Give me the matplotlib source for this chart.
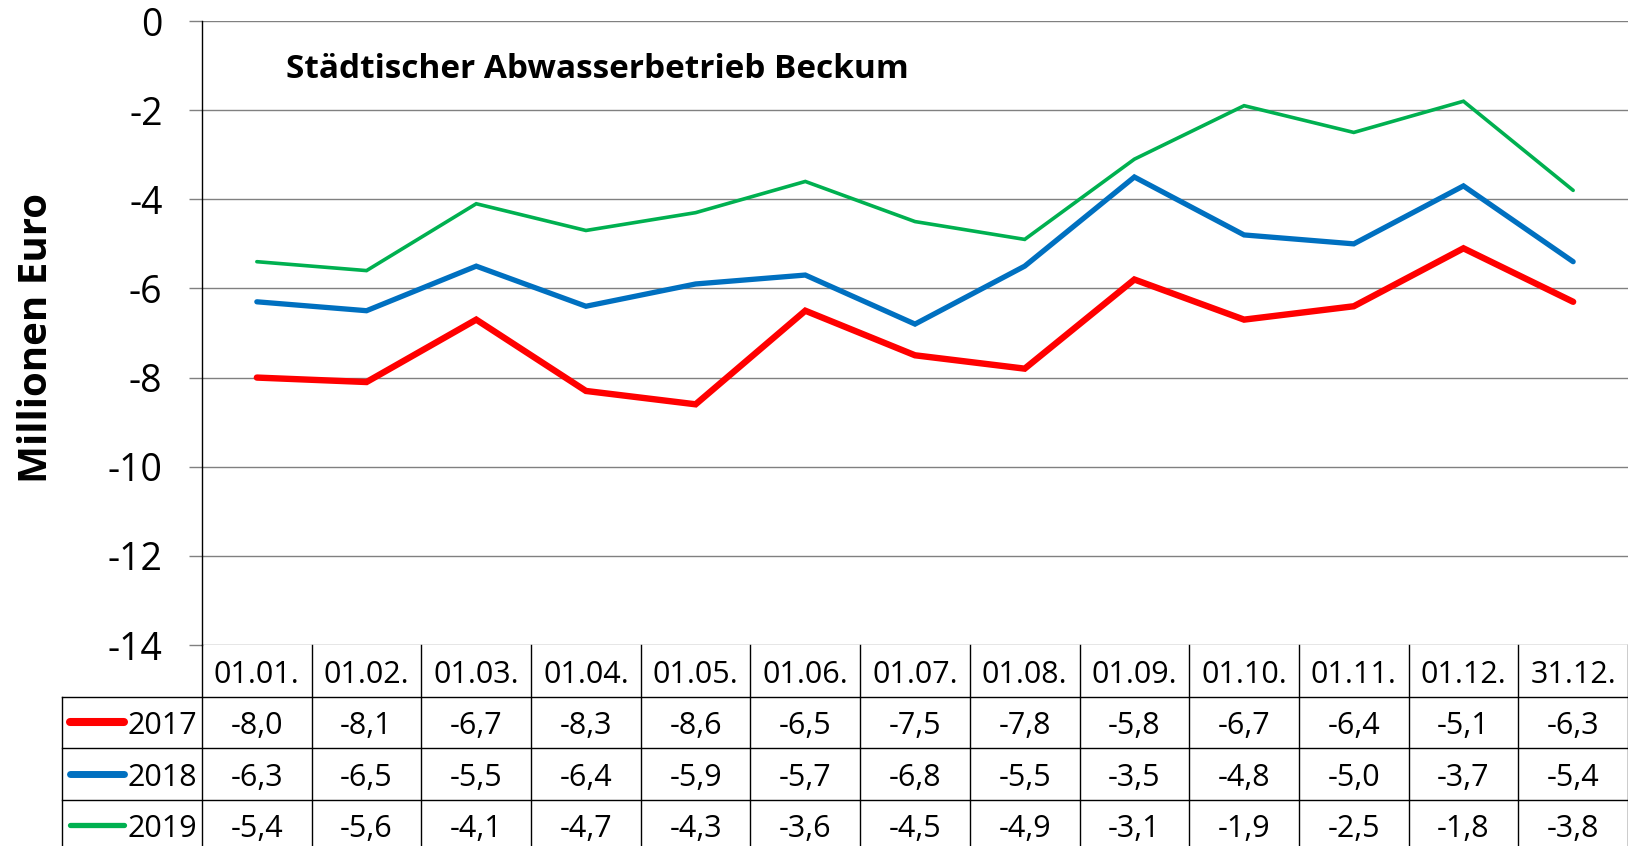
import numpy as np
import matplotlib
matplotlib.use("Agg")
import matplotlib.pyplot as plt

plt.rcParams['font.family'] = ['Open Sans', 'DejaVu Sans']

dates = ["01.01.", "01.02.", "01.03.", "01.04.", "01.05.", "01.06.", "01.07.",
         "01.08.", "01.09.", "01.10.", "01.11.", "01.12.", "31.12."]
v2017 = [-8.0, -8.1, -6.7, -8.3, -8.6, -6.5, -7.5, -7.8, -5.8, -6.7, -6.4, -5.1, -6.3]
v2018 = [-6.3, -6.5, -5.5, -6.4, -5.9, -5.7, -6.8, -5.5, -3.5, -4.8, -5.0, -3.7, -5.4]
v2019 = [-5.4, -5.6, -4.1, -4.7, -4.3, -3.6, -4.5, -4.9, -3.1, -1.9, -2.5, -1.8, -3.8]
years = ["2017", "2018", "2019"]
series = [v2017, v2018, v2019]
colors = ["#FF0000", "#0070C0", "#00B050"]
widths = [4.6, 3.8, 2.6]

W, H = 1628, 846
fig = plt.figure(figsize=(W / 100, H / 100), dpi=100)

# plot area in pixels
left, right, top, bottom = 202, 1628, 21, 645
ax = fig.add_axes([left / W, (H - bottom) / H, (right - left) / W, (bottom - top) / H])

x = np.arange(len(dates))
for vals, c, lw in zip(series, colors, widths):
    ax.plot(x, vals, color=c, lw=lw, solid_capstyle='round', solid_joinstyle='miter', zorder=3)

ax.set_xlim(-0.5, len(dates) - 0.5)
ax.set_ylim(-14, 0)
ax.set_yticks(np.arange(-14, 1, 2))
ax.set_yticklabels([str(t) for t in range(-14, 1, 2)])
ax.set_xticks([])
ax.grid(axis='y', color='#808080', lw=1.0)
ax.tick_params(axis='y', length=9.4, width=1.0, color='#808080', labelsize=27, pad=19)
for s in ['top', 'right', 'bottom']:
    ax.spines[s].set_visible(False)
ax.spines['left'].set_color('black')
ax.spines['left'].set_linewidth(1.0)

fig.text(286 / W, 1 - 70 / H, "Städtischer Abwasserbetrieb Beckum",
         fontsize=24, fontweight='bold', ha='left', va='center')

fig.text(37 / W, 1 - 338 / H, "Millionen Euro", rotation=90, fontsize=29,
         fontweight='bold', ha='center', va='center')

# data table below the chart
cw = (right - left) / len(dates)
tleft = 62
rowh = 51.5
tax = fig.add_axes([tleft / W, 0, (W - tleft) / W, (H - bottom) / H])
xmin = -0.5 - (left - tleft) / cw
tax.set_xlim(xmin, len(dates) - 0.5)
tax.set_ylim((H - bottom) / rowh, 0)
tax.axis('off')
ymax = (H - bottom) / rowh + 0.2

lc = 'black'
tlw = 1.0
for k in range(len(dates) + 1):
    tax.plot([k - 0.5, k - 0.5], [0, ymax], color=lc, lw=tlw, clip_on=False)
tax.plot([xmin, xmin], [1, ymax], color=lc, lw=tlw, clip_on=False)
for r in range(1, 4):
    tax.plot([xmin, len(dates) - 0.5], [r, r], color=lc, lw=tlw, clip_on=False)

dy = 0.08
for i, d in enumerate(dates):
    tax.text(i, 0.5 + dy, d, ha='center', va='center', fontsize=22)

for r, (yr, vals, c, lw) in enumerate(zip(years, series, colors, widths)):
    yc = r + 1.5
    tax.plot([xmin + (70 - tleft) / cw, xmin + (124 - tleft) / cw], [yc, yc],
             color=c, lw=lw + 1.2, solid_capstyle='round', clip_on=False)
    tax.text(-0.5 - 5 / cw, yc + dy, yr, ha='right', va='center', fontsize=22)
    for i, v in enumerate(vals):
        tax.text(i, yc + dy, f"{v:.1f}".replace('.', ','), ha='center', va='center', fontsize=22)

fig.savefig("out.png", dpi=100)
